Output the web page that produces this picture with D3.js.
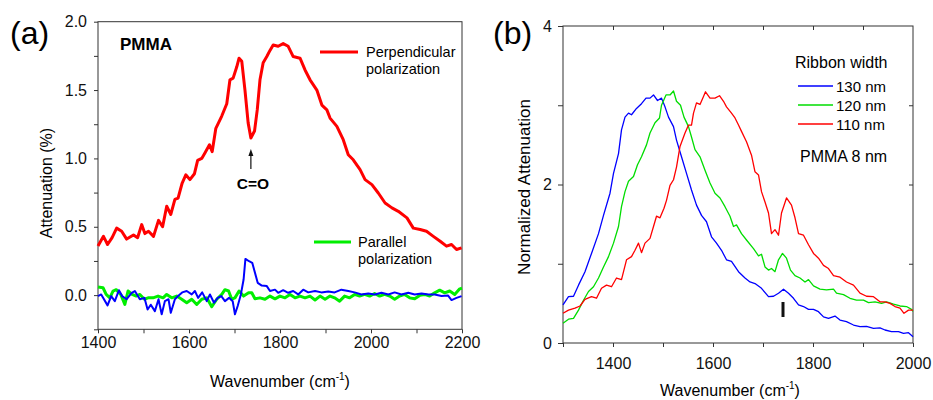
<!DOCTYPE html>
<html>
<head>
<meta charset="utf-8">
<script src="https://cdn.jsdelivr.net/npm/d3@7"></script>
<style>
	html, body { margin: 0; padding: 0; background: #fff; }
	svg { display: block; font-family: "Liberation Sans", Arial, sans-serif; }
	.tick text { fill: #111; }
</style>
</head>
<body>
<div id="wrapper"></div>
<script>
// panel (a): attenuation (%) vs wavenumber
const perpendicular = [[1400,0.36],[1412,0.43],[1421,0.37],[1431,0.42],[1441,0.49],[1452,0.467],[1463,0.41],[1478,0.44],[1487,0.42],[1496,0.516],[1503,0.45],[1511,0.467],[1522,0.43],[1533,0.547],[1542,0.50],[1551,0.65],[1560,0.59],[1569,0.70],[1576,0.71],[1585,0.82],[1593,0.88],[1602,0.845],[1612,0.888],[1619,0.985],[1628,1.0],[1635,1.04],[1645,1.10],[1651,1.05],[1659,1.22],[1672,1.31],[1683,1.40],[1690,1.575],[1697,1.587],[1705,1.67],[1710,1.733],[1716,1.71],[1723,1.50],[1730,1.26],[1736,1.149],[1744,1.20],[1750,1.355],[1756,1.575],[1763,1.70],[1771,1.745],[1778,1.79],[1785,1.83],[1796,1.82],[1807,1.84],[1818,1.82],[1829,1.745],[1844,1.733],[1855,1.647],[1866,1.575],[1881,1.50],[1892,1.39],[1903,1.355],[1910,1.295],[1925,1.234],[1939,1.137],[1950,1.027],[1961,0.99],[1976,0.918],[1987,0.845],[2002,0.808],[2016,0.747],[2031,0.674],[2046,0.638],[2060,0.613],[2079,0.565],[2093,0.49],[2108,0.48],[2122,0.467],[2137,0.43],[2152,0.394],[2166,0.358],[2177,0.37],[2188,0.334],[2199,0.346]];

const parallel = [[1400,0.06],[1411,0.054],[1418,0.005],[1426,-0.02],[1433,0.03],[1440,0.04],[1450,0.005],[1459,-0.068],[1466,0.03],[1475,0.005],[1484,-0.007],[1492,0.005],[1502,-0.03],[1510,-0.02],[1521,-0.02],[1532,-0.007],[1543,-0.02],[1551,0.005],[1562,-0.02],[1573,-0.007],[1584,-0.03],[1595,-0.056],[1606,-0.03],[1617,-0.068],[1628,-0.03],[1639,-0.02],[1650,-0.085],[1661,-0.03],[1672,0.005],[1679,0.04],[1687,0.03],[1694,-0.03],[1701,-0.02],[1710,0.03],[1720,-0.007],[1731,0.017],[1738,0.017],[1745,-0.027],[1756,-0.02],[1767,-0.03],[1778,-0.007],[1789,-0.027],[1800,-0.007],[1811,-0.02],[1822,0.005],[1833,-0.02],[1844,-0.007],[1855,-0.02],[1866,-0.007],[1877,-0.036],[1888,-0.007],[1899,-0.03],[1910,-0.007],[1920,-0.02],[1931,-0.044],[1942,-0.007],[1953,-0.02],[1964,0.005],[1975,-0.007],[1986,0.005],[1997,-0.007],[2008,0.012],[2019,-0.007],[2030,0.005],[2041,-0.007],[2052,-0.03],[2063,-0.007],[2074,0.005],[2085,-0.02],[2096,-0.027],[2107,-0.002],[2118,0.005],[2129,-0.007],[2140,0.017],[2151,0.036],[2162,0.017],[2173,0.03],[2184,0.005],[2195,0.046],[2200,0.05]];

const blueTrace = [[1400,-0.007],[1407,0.005],[1421,-0.075],[1429,-0.007],[1437,-0.044],[1446,0.036],[1453,-0.007],[1463,-0.03],[1474,0.017],[1481,0.03],[1492,-0.03],[1502,-0.02],[1509,-0.105],[1516,-0.07],[1525,-0.117],[1533,-0.03],[1540,-0.14],[1547,-0.044],[1555,-0.03],[1560,-0.129],[1569,-0.03],[1576,-0.007],[1585,0.02],[1595,0.03],[1606,0.005],[1613,0.03],[1620,-0.02],[1629,0.02],[1639,-0.044],[1646,0.005],[1655,-0.056],[1663,-0.02],[1671,-0.007],[1679,-0.044],[1688,-0.02],[1696,-0.044],[1701,-0.14],[1707,-0.08],[1714,0.005],[1720,0.114],[1724,0.265],[1732,0.248],[1739,0.236],[1745,0.163],[1751,0.09],[1760,0.07],[1771,0.066],[1778,0.03],[1789,0.04],[1796,0.017],[1807,0.036],[1818,0.017],[1829,0.03],[1840,0.005],[1851,0.04],[1862,0.02],[1877,0.03],[1891,0.02],[1906,0.027],[1920,0.02],[1935,0.04],[1950,0.03],[1964,0.02],[1979,0.005],[1994,0.012],[2008,0.005],[2023,0.017],[2038,0.005],[2052,0.02],[2067,0.005],[2082,0.017],[2096,0.005],[2111,0.012],[2126,0.005],[2140,0.005],[2155,-0.007],[2169,-0.002],[2177,-0.036],[2188,-0.02],[2199,-0.007]];

// panel (b): normalized attenuation for three ribbon widths
const width130 = [[1300,0.48],[1311,0.585],[1321,0.59],[1331,0.73],[1344,0.90],[1357,1.13],[1371,1.38],[1381,1.61],[1394,1.89],[1401,2.14],[1411,2.39],[1417,2.69],[1424,2.85],[1431,2.90],[1437,2.88],[1447,2.96],[1457,3.02],[1466,3.09],[1474,3.09],[1481,3.13],[1489,3.06],[1497,3.09],[1504,2.98],[1511,2.85],[1521,2.73],[1527,2.56],[1537,2.35],[1547,2.14],[1557,1.93],[1567,1.74],[1577,1.61],[1587,1.53],[1597,1.34],[1607,1.26],[1617,1.17],[1627,1.05],[1637,1.03],[1651,0.90],[1664,0.82],[1674,0.77],[1684,0.75],[1697,0.69],[1711,0.585],[1721,0.59],[1731,0.627],[1741,0.678],[1751,0.627],[1761,0.564],[1771,0.48],[1781,0.46],[1791,0.425],[1801,0.425],[1811,0.395],[1821,0.33],[1831,0.31],[1844,0.34],[1854,0.29],[1867,0.27],[1881,0.227],[1894,0.206],[1907,0.21],[1921,0.185],[1934,0.19],[1944,0.164],[1957,0.143],[1971,0.143],[1981,0.122],[1991,0.13],[2000,0.08]];

const width120 = [[1300,0.25],[1311,0.30],[1321,0.31],[1331,0.415],[1341,0.54],[1351,0.65],[1361,0.71],[1371,0.82],[1381,0.96],[1391,1.09],[1401,1.26],[1411,1.47],[1417,1.72],[1424,1.91],[1431,2.04],[1441,2.10],[1449,2.25],[1457,2.35],[1467,2.50],[1474,2.65],[1484,2.78],[1493,2.84],[1497,3.00],[1506,3.13],[1514,3.13],[1521,3.18],[1527,3.05],[1535,3.00],[1542,2.85],[1551,2.73],[1557,2.60],[1564,2.44],[1574,2.35],[1584,2.18],[1594,2.02],[1604,1.89],[1614,1.83],[1624,1.72],[1634,1.60],[1641,1.47],[1647,1.49],[1657,1.38],[1667,1.30],[1681,1.19],[1691,1.10],[1697,1.12],[1704,0.96],[1711,0.92],[1717,0.94],[1724,0.90],[1731,1.05],[1739,1.13],[1747,1.07],[1755,0.92],[1764,0.85],[1774,0.82],[1784,0.77],[1791,0.80],[1801,0.72],[1814,0.68],[1827,0.67],[1841,0.68],[1847,0.63],[1861,0.61],[1874,0.564],[1887,0.54],[1901,0.54],[1911,0.51],[1924,0.52],[1937,0.50],[1947,0.52],[1961,0.49],[1974,0.467],[1987,0.46],[1997,0.425],[2000,0.40]];

const width110 = [[1300,0.375],[1311,0.415],[1324,0.44],[1334,0.467],[1344,0.55],[1357,0.585],[1367,0.565],[1377,0.69],[1387,0.73],[1397,0.71],[1407,0.82],[1417,0.80],[1427,1.05],[1437,1.09],[1444,1.17],[1451,1.26],[1457,1.14],[1464,1.26],[1474,1.32],[1481,1.47],[1487,1.60],[1494,1.58],[1502,1.70],[1507,1.80],[1514,1.99],[1521,2.06],[1527,2.22],[1534,2.48],[1544,2.65],[1551,2.75],[1557,2.75],[1561,2.90],[1567,3.03],[1574,3.01],[1581,3.11],[1585,3.17],[1594,3.09],[1604,3.09],[1613,3.12],[1621,3.05],[1627,2.98],[1637,2.90],[1644,2.84],[1651,2.75],[1657,2.67],[1667,2.54],[1677,2.37],[1684,2.16],[1691,2.12],[1697,1.91],[1704,1.78],[1711,1.64],[1717,1.38],[1724,1.43],[1731,1.36],[1737,1.64],[1747,1.83],[1757,1.74],[1764,1.58],[1771,1.38],[1781,1.36],[1791,1.24],[1801,1.13],[1811,1.07],[1821,0.98],[1831,0.94],[1841,0.85],[1854,0.83],[1867,0.77],[1881,0.73],[1894,0.63],[1907,0.59],[1921,0.585],[1934,0.52],[1944,0.52],[1954,0.50],[1964,0.46],[1974,0.44],[1982,0.375],[1991,0.415],[2000,0.415]];

const ticksA_x = [1400, 1600, 1800, 2000, 2200];
const minorA_x = [1500, 1700, 1900, 2100];
const ticksA_y = [0, 0.5, 1.0, 1.5, 2.0];
const minorA_y = [-0.25, 0.25, 0.75, 1.25, 1.75];
const ticksB_x = [1400, 1600, 1800, 2000];
const minorB_x = [1300, 1500, 1700, 1900];
const ticksB_y = [0, 2, 4];
const minorB_y = [1, 3];
const ribbonLabels = ['130 nm', '120 nm', '110 nm'];

(() => {
	const svg = d3.select('#wrapper').append('svg')
		.attr('width', 933)
		.attr('height', 400);
	const axisColor = '#333';

	const styleAxis = (g) => {
		g.select('.domain').remove();
		g.selectAll('.tick line').attr('stroke', axisColor);
		g.selectAll('.tick text')
			.style('font-size', '16px')
			.style('font-family', '"Liberation Sans", Arial, sans-serif');
	};

	// ---------- panel (a) ----------
	const xA = d3.scaleLinear().domain([1400, 2200]).range([98, 462]);
	const yA = d3.scaleLinear().domain([-0.25, 2.0]).range([329.3, 21.7]);

	svg.append('g')
		.attr('transform', `translate(0,${yA(-0.25)})`)
		.call(d3.axisBottom(xA).tickValues(ticksA_x).tickSize(4).tickPadding(3).tickFormat(d3.format('d')))
		.call(styleAxis);
	svg.append('g')
		.attr('transform', `translate(0,${yA(-0.25)})`)
		.call(d3.axisBottom(xA).tickValues(minorA_x).tickSize(4).tickFormat(''))
		.call(styleAxis);
	svg.append('g')
		.attr('transform', `translate(${xA(1400)},0)`)
		.call(d3.axisLeft(yA).tickValues(ticksA_y).tickSize(4).tickPadding(7).tickFormat(d3.format('.1f')))
		.call(styleAxis);
	svg.append('g')
		.attr('transform', `translate(${xA(1400)},0)`)
		.call(d3.axisLeft(yA).tickValues(minorA_y).tickSize(4).tickFormat(''))
		.call(styleAxis);

	svg.append('rect')
		.attr('x', xA(1400)).attr('y', yA(2.0))
		.attr('width', xA(2200) - xA(1400))
		.attr('height', yA(-0.25) - yA(2.0))
		.attr('fill', 'none')
		.attr('stroke', axisColor)
		.attr('stroke-width', 1);

	const lineA = d3.line().x((d) => xA(d[0])).y((d) => yA(d[1]));
	const plotA = svg.append('g');
	plotA.append('path').datum(perpendicular)
		.attr('d', lineA).attr('fill', 'none')
		.attr('stroke', '#ff0000').attr('stroke-width', 3).attr('stroke-linejoin', 'round');
	plotA.append('path').datum(parallel)
		.attr('d', lineA).attr('fill', 'none')
		.attr('stroke', '#00ee00').attr('stroke-width', 3).attr('stroke-linejoin', 'round');
	plotA.append('path').datum(blueTrace)
		.attr('d', lineA).attr('fill', 'none')
		.attr('stroke', '#0000ff').attr('stroke-width', 2).attr('stroke-linejoin', 'round');

	// labels
	svg.append('text').attr('x', 10).attr('y', 44)
		.style('font-size', '32px').text('(a)');
	svg.append('text').attr('x', 120).attr('y', 50)
		.style('font-size', '17px').style('font-weight', 'bold').text('PMMA');
	svg.append('text')
		.attr('transform', 'translate(52,183) rotate(-90)')
		.attr('text-anchor', 'middle')
		.style('font-size', '16px')
		.text('Attenuation (%)');
	const xlabA = svg.append('text').attr('x', 280).attr('y', 387)
		.attr('text-anchor', 'middle').style('font-size', '16px');
	xlabA.append('tspan').text('Wavenumber (cm');
	xlabA.append('tspan').attr('dy', -7).style('font-size', '10px').text('-1');
	xlabA.append('tspan').attr('dy', 7).text(')');

	// C=O marker
	svg.append('line')
		.attr('x1', xA(1736)).attr('x2', xA(1736))
		.attr('y1', 169).attr('y2', 154)
		.attr('stroke', '#111').attr('stroke-width', 1.2);
	svg.append('path')
		.attr('d', `M${xA(1736)},149 L${xA(1736) - 2.5},156 L${xA(1736) + 2.5},156 Z`)
		.attr('fill', '#111');
	svg.append('text').attr('x', 253).attr('y', 189)
		.attr('text-anchor', 'middle')
		.style('font-size', '15.5px').style('font-weight', 'bold').text('C=O');

	// legend (a)
	svg.append('line').attr('x1', 320).attr('x2', 358).attr('y1', 52).attr('y2', 52)
		.attr('stroke', '#ff0000').attr('stroke-width', 3);
	svg.append('text').attr('x', 366).attr('y', 57).style('font-size', '14.5px').text('Perpendicular');
	svg.append('text').attr('x', 366).attr('y', 74).style('font-size', '14.5px').text('polarization');
	svg.append('line').attr('x1', 314).attr('x2', 351).attr('y1', 242).attr('y2', 242)
		.attr('stroke', '#00ee00').attr('stroke-width', 3);
	svg.append('text').attr('x', 358).attr('y', 247).style('font-size', '14.5px').text('Parallel');
	svg.append('text').attr('x', 358).attr('y', 264).style('font-size', '14.5px').text('polarization');

	// ---------- panel (b) ----------
	const xB = d3.scaleLinear().domain([1300, 2000]).range([563, 913]);
	const yB = d3.scaleLinear().domain([0, 4]).range([343, 26]);

	svg.append('g')
		.attr('transform', `translate(0,${yB(0)})`)
		.call(d3.axisBottom(xB).tickValues(ticksB_x).tickSize(4).tickPadding(10.5).tickFormat(d3.format('d')))
		.call(styleAxis);
	svg.append('g')
		.attr('transform', `translate(0,${yB(0)})`)
		.call(d3.axisBottom(xB).tickValues(minorB_x).tickSize(4).tickFormat(''))
		.call(styleAxis);
	svg.append('g')
		.attr('transform', `translate(0,${yB(4)})`)
		.call(d3.axisBottom(xB).tickValues(d3.range(1400, 2000, 100)).tickSize(4).tickFormat(''))
		.call(styleAxis);
	svg.append('g')
		.attr('transform', `translate(${xB(1300)},0)`)
		.call(d3.axisLeft(yB).tickValues(ticksB_y).tickSize(5).tickPadding(6).tickFormat(d3.format('d')))
		.call(styleAxis);
	svg.append('g')
		.attr('transform', `translate(${xB(1300)},0)`)
		.call(d3.axisLeft(yB).tickValues(minorB_y).tickSize(5).tickFormat(''))
		.call(styleAxis);
	svg.append('g')
		.attr('transform', `translate(${xB(2000)},0)`)
		.call(d3.axisLeft(yB).tickValues([1, 2, 3]).tickSize(4).tickFormat(''))
		.call(styleAxis);

	svg.append('rect')
		.attr('x', xB(1300)).attr('y', yB(4))
		.attr('width', xB(2000) - xB(1300))
		.attr('height', yB(0) - yB(4))
		.attr('fill', 'none')
		.attr('stroke', axisColor)
		.attr('stroke-width', 1);

	const lineB = d3.line().x((d) => xB(d[0])).y((d) => yB(d[1]));
	const seriesB = [
		{ data: width130, color: '#0000ff' },
		{ data: width120, color: '#00dd00' },
		{ data: width110, color: '#ff0000' }
	];
	svg.append('g').selectAll('path')
		.data(seriesB)
		.enter()
		.append('path')
		.attr('d', (d) => lineB(d.data))
		.attr('fill', 'none')
		.attr('stroke', (d) => d.color)
		.attr('stroke-width', 1.3)
		.attr('stroke-linejoin', 'round');

	svg.append('text').attr('x', 493).attr('y', 44)
		.style('font-size', '32px').text('(b)');
	svg.append('text')
		.attr('transform', 'translate(530,187) rotate(-90)')
		.attr('text-anchor', 'middle')
		.style('font-size', '17px')
		.text('Normalized Attenuation');
	const xlabB = svg.append('text').attr('x', 730).attr('y', 396)
		.attr('text-anchor', 'middle').style('font-size', '16px');
	xlabB.append('tspan').text('Wavenumber (cm');
	xlabB.append('tspan').attr('dy', -7).style('font-size', '10px').text('-1');
	xlabB.append('tspan').attr('dy', 7).text(')');

	// legend (b)
	svg.append('text').attr('x', 795).attr('y', 68).style('font-size', '16px').text('Ribbon width');
	const legB = svg.append('g').selectAll('g')
		.data(seriesB)
		.enter()
		.append('g')
		.attr('transform', (d, i) => `translate(0,${86 + i * 19})`);
	legB.append('line')
		.attr('x1', 798).attr('x2', 833)
		.attr('stroke', (d) => d.color).attr('stroke-width', 1.3);
	legB.append('text')
		.attr('x', 836).attr('y', 5.5)
		.style('font-size', '15px')
		.text((d, i) => ribbonLabels[i]);
	svg.append('text').attr('x', 800).attr('y', 162).style('font-size', '16px').text('PMMA 8 nm');

	// C=O position marker in (b)
	svg.append('line')
		.attr('x1', xB(1740)).attr('x2', xB(1740))
		.attr('y1', 302).attr('y2', 317)
		.attr('stroke', '#111').attr('stroke-width', 3);
})();
</script>
</body>
</html>
